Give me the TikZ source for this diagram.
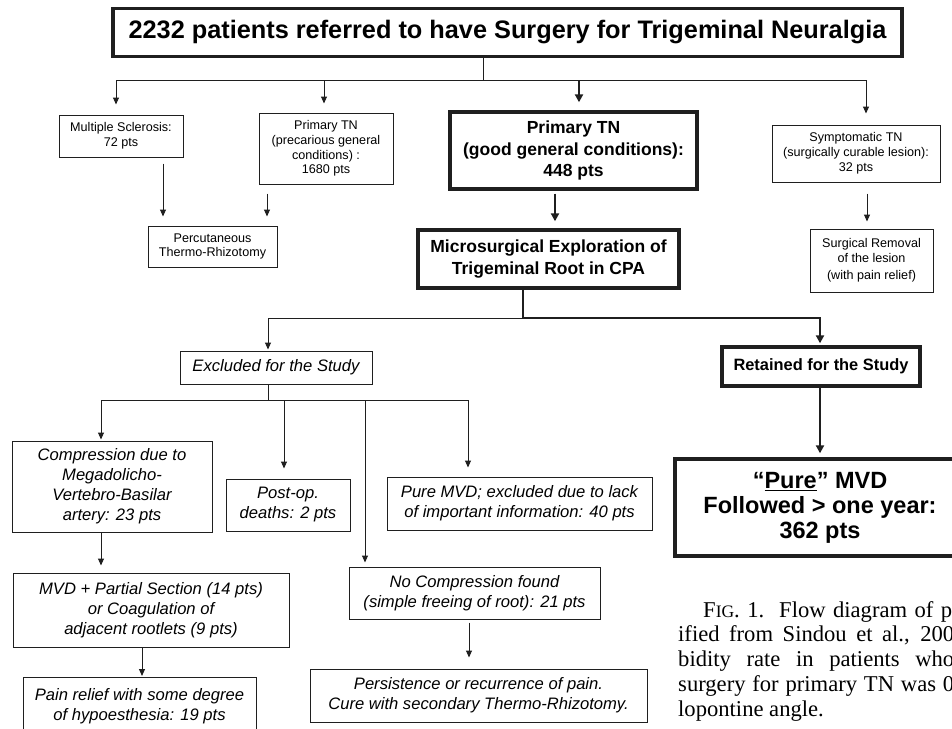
\documentclass[tikz,border=0pt]{standalone}
\usepackage{fontspec}
\setmainfont{Liberation Serif}
\setsansfont{Liberation Sans}
\usetikzlibrary{arrows.meta}
\begin{document}
\begin{tikzpicture}[x=1pt,y=-1pt,
  ink/.style={draw=black!88},
  thinbox/.style={ink, line width=1pt, inner sep=0pt, align=center},
  thickbox/.style={ink, line width=3.4pt, inner sep=0pt, align=center},
  smallf/.style={font=\sffamily\fontsize{12.6}{14.8}\selectfont},
  italf/.style={font=\sffamily\itshape\fontsize{16.6}{20}\selectfont},
  boldf/.style={font=\sffamily\bfseries\fontsize{17.5}{21.5}\selectfont},
  capf/.style={font=\rmfamily\fontsize{22.6}{24}\selectfont, inner sep=0pt, anchor=base west},
  link/.style={ink, line width=1pt},
  arr/.style={ink, line width=1pt, -{Triangle[length=7pt,width=6pt]}},
  thicklink/.style={ink, line width=2.4pt},
  thickarr/.style={ink, line width=2.4pt, -{Triangle[length=8pt,width=8pt]}}
]
\fill[white] (0,0) rectangle (952,728);
\clip (0,0) rectangle (952,728);

% ---- boxes ----
\node[thickbox, minimum width=789pt, minimum height=48pt,
      font=\sffamily\bfseries\fontsize{25.3}{30}\selectfont] (title) at (507.5,32.5)
  {2232 patients referred to have Surgery for Trigeminal Neuralgia};

\node[thinbox, smallf, minimum width=124pt, minimum height=42pt] (ms) at (121,136)
  {Multiple Sclerosis:\\72 pts};
\node[thinbox, smallf, minimum width=134pt, minimum height=71pt] (ptnp) at (326,148.5)
  {Primary TN\\(precarious general\\conditions) :\\1680 pts};
\node[thickbox, boldf, minimum width=247pt, minimum height=77pt] (ptng) at (573.5,150.5)
  {Primary TN\\(good general conditions):\\448 pts};
\node[thinbox, smallf, minimum width=168pt, minimum height=57pt] (stn) at (856,153.5)
  {Symptomatic TN\\(surgically curable lesion):\\32 pts};

\node[thinbox, smallf, minimum width=129pt, minimum height=41pt] (perc) at (212.5,246.5)
  {Percutaneous\\Thermo-Rhizotomy};
\node[thickbox, boldf, minimum width=261pt, minimum height=58pt] (micro) at (548.5,259)
  {Microsurgical Exploration of\\Trigeminal Root in CPA};
\node[thinbox, smallf, minimum width=123pt, minimum height=63pt] (srem) at (871.5,260.5)
  {Surgical Removal\\of the lesion\\[2.5pt](with pain relief)};

\node[thinbox, italf, minimum width=192pt, minimum height=33pt] (excl) at (276,367.5)
  {Excluded for the Study};
\node[thickbox, font=\sffamily\bfseries\fontsize{16.4}{20}\selectfont,
      minimum width=198pt, minimum height=39pt] (ret) at (821,366.5)
  {Retained for the Study};

\node[thinbox, italf, minimum width=200pt, minimum height=91pt] (comp) at (112,486.5)
  {Compression due to\\Megadolicho-\\Vertebro-Basilar\\artery: 23 pts};
\node[thinbox, italf, minimum width=124pt, minimum height=52pt] (postop) at (288,505)
  {Post-op.\\deaths: 2 pts};
\node[thinbox, italf, minimum width=265pt, minimum height=53pt] (puremvd) at (519.5,503.5)
  {Pure MVD; excluded due to lack\\of important information: 40 pts};
\node[thickbox, font=\sffamily\bfseries\fontsize{23.5}{25}\selectfont,
      minimum width=290pt, minimum height=97pt] (bigpure) at (820,507.5)
  {“\underline{Pure}” MVD\\Followed > one year:\\362 pts};

\node[thinbox, italf, minimum width=276pt, minimum height=74pt] (mvdps) at (151,610)
  {MVD + Partial Section (14 pts)\\or Coagulation of\\adjacent rootlets (9 pts)};
\node[thinbox, italf, minimum width=251pt, minimum height=52pt] (nocomp) at (474.5,593)
  {No Compression found\\(simple freeing of root): 21 pts};
\node[thinbox, italf, minimum width=233pt, minimum height=58pt] (painrel) at (139.5,706)
  {Pain relief with some degree\\of hypoesthesia: 19 pts};
\node[thinbox, italf, minimum width=337pt, minimum height=53pt] (persist) at (478.5,695.5)
  {Persistence or recurrence of pain.\\Cure with secondary Thermo-Rhizotomy.};

% ---- caption ----
\node[capf] (cap1) at (703,617) {\makebox[249pt][s]{F{\fontsize{17.5}{20}\selectfont IG}. 1.\ \ Flow diagram of p}};
\node[capf] (cap2) at (678,641.75) {\makebox[276pt][s]{ified from Sindou et al., 200}};
\node[capf] (cap3) at (678,666.5) {\makebox[276pt][s]{bidity rate in patients who}};
\node[capf] (cap4) at (678,691.25) {\makebox[276pt][s]{surgery for primary TN was 0}};
\node[capf] (cap5) at (678,716) {lopontine angle.};

% ---- connectors ----
\coordinate (hub) at (483,80);
\coordinate (split) at (523,318);
\coordinate (split2) at (268,400);

\draw[link] (title.south -| hub) -- (hub);
\draw[link] ([xshift=-5pt]ms.north |- hub) -- ([xshift=10pt]stn.north |- hub);
\draw[arr] ([xshift=-5pt]ms.north |- hub) -- ([xshift=-5pt,yshift=10pt]ms.north);
\draw[arr] ([xshift=-2pt]ptnp.north |- hub) -- ([xshift=-2pt,yshift=9pt]ptnp.north);
\draw[thickarr] ([xshift=5.5pt]ptng.north |- hub) -- ([xshift=5.5pt,yshift=8pt]ptng.north);
\draw[arr] ([xshift=10pt]stn.north |- hub) -- ([xshift=10pt,yshift=11pt]stn.north);

\draw[arr] ([xshift=42pt,yshift=-6pt]ms.south) -- ([xshift=-49.5pt,yshift=9pt]perc.north);
\draw[arr] ([xshift=-59pt,yshift=-9pt]ptnp.south) -- ([xshift=54.5pt,yshift=9pt]perc.north);
\draw[thickarr] ([xshift=-18.5pt,yshift=-3pt]ptng.south) -- ([xshift=6.5pt,yshift=7pt]micro.north);
\draw[arr] ([xshift=11pt,yshift=-11pt]stn.south) -- ([xshift=-4.5pt,yshift=7pt]srem.north);

\draw[thicklink] ([xshift=-25.5pt]micro.south) -- (split);
\draw[thickarr] ([xshift=-1.2pt]split) -| ([xshift=-1pt,yshift=2pt]ret.north);
\draw[arr] (split) -| ([xshift=-8pt,yshift=1pt]excl.north);

\draw[link] ([xshift=-8pt]excl.south) -- (split2);
\draw[arr] (split2) -| ([xshift=-11pt,yshift=1pt]comp.north);
\draw[arr] (split2) -| ([xshift=-4pt,yshift=10pt]postop.north);
\draw[arr] (split2) -| ([xshift=-109.5pt,yshift=4pt]nocomp.north);
\draw[arr] (split2) -| ([xshift=-51.5pt,yshift=9pt]puremvd.north);

\draw[thickarr] ([xshift=-1pt]ret.south) -- ([yshift=4pt]bigpure.north);
\draw[arr] ([xshift=-11pt]comp.south) -- ([xshift=-50pt,yshift=7pt]mvdps.north);
\draw[arr] ([xshift=-9pt]mvdps.south) -- ([xshift=2.5pt,yshift=0.5pt]painrel.north);
\draw[arr] ([xshift=-5.5pt,yshift=-3pt]nocomp.south) -- ([xshift=-9.5pt,yshift=11pt]persist.north);
\end{tikzpicture}
\end{document}
